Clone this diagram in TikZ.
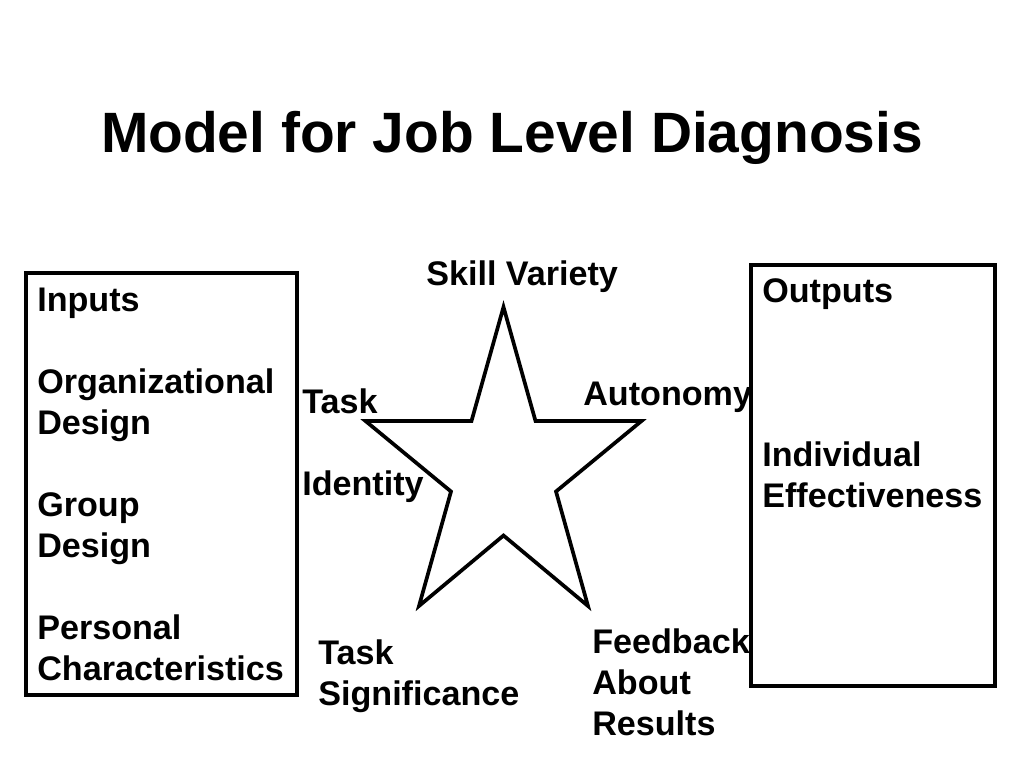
\documentclass[tikz,border=0pt]{standalone}
\usepackage{fontspec}
\setmainfont{Liberation Sans}

\begin{document}
\begin{tikzpicture}[x=0.703125pt, y=-0.703125pt,
    box/.style={draw, line width=2.4pt},
    lbl/.style={anchor=base west, inner sep=0pt, align=left,
                font=\bfseries\fontsize{24}{28.8}\selectfont}]
    \useasboundingbox (0,0) rectangle (1024,768);

    % Title
    \node[anchor=base, inner sep=0pt, font=\bfseries\fontsize{40}{48}\selectfont]
        (title) at (512,153) {Model for Job Level Diagnosis};

    % Input and output boxes (text anchored at its last line)
    \draw[box] (26,273) rectangle (297,695);
    \draw[box] (751,265) rectangle (995,686);
    \node[lbl] (inputs) at (37,680) {Inputs\\[28.8pt]Organizational\\Design\\[28.8pt]Group\\Design\\[28.8pt]Personal\\Characteristics};
    \node[lbl] (outputs) at (762,507) {Outputs\\[86.5pt]Individual\\Effectiveness};

    % Star of job dimensions
    \draw[line width=2.6pt] (503.5,307) -- (535.5,421) -- (641.5,421) -- (556,491.5)
          -- (588,606) -- (503.5,535.5) -- (419,606) -- (451,491.5)
          -- (365.5,421) -- (471.5,421) -- cycle;
    \node[lbl] (skill) at (426,285) {Skill Variety};
    \node[lbl] (identity) at (302,495) {Task\\[28.8pt]Identity};
    \node[lbl] (autonomy) at (583,405) {Autonomy};
    \node[lbl] (significance) at (318,705) {Task\\Significance};
    \node[lbl] (feedback) at (592,735) {Feedback\\About\\Results};

\end{tikzpicture}
\end{document}
